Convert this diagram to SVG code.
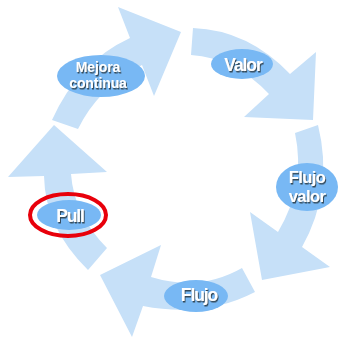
<svg xmlns="http://www.w3.org/2000/svg" width="339" height="338" viewBox="0 0 339 338">
<defs>
<filter id="sh" x="-20%" y="-20%" width="140%" height="160%">
<feDropShadow dx="1" dy="1.5" stdDeviation="0.6" flood-color="#2f3d4a" flood-opacity="0.9"/>
</filter>
</defs>
<style>
.arr{fill:#C6E0F8;stroke:none}
.node{fill:#78B8F4}
.lbl{font-family:"Liberation Sans",Arial,sans-serif;font-weight:bold;fill:#ffffff;text-anchor:middle;filter:url(#sh)}
</style>
<rect width="339" height="338" fill="#ffffff"/>
<g id="connectors">
<path class="arr" d="M52,120 Q78,62 130,38 L118,7 L181,32 L154,96 L142,65 Q98,88 78,129 Z"/>
<path class="arr" d="M193,28 Q248,30 290,74 L316,52 L313,120 L244,117 L269,94 Q235,58 191,55 Z"/>
<path class="arr" d="M295,133 Q306,185 278,232 L250,212 L262,280 L330,267 L302,247 Q334,190 318,125 Z"/>
<path class="arr" d="M242,268 Q200,292 151,277 L161,245 L100,275 L132,337 L143,306 Q205,318 255,292 Z"/>
<path class="arr" d="M88,270 Q45,228 44,176 L8,177 L54,125 L107,172 L71,174 Q74,215 107,248 Z"/>
</g>
<g id="node-mejora">
<ellipse class="node" cx="101" cy="76" rx="44" ry="21"/>
<text class="lbl" font-size="14" letter-spacing="-0.1"><tspan x="98" y="71.5">Mejora</tspan><tspan x="98" y="87.5">continua</tspan></text>
</g>
<g id="node-valor">
<ellipse class="node" cx="242" cy="64" rx="31" ry="15"/>
<text class="lbl" x="243" y="71" font-size="17.5" letter-spacing="-1.1">Valor</text>
</g>
<g id="node-flujovalor">
<ellipse class="node" cx="307" cy="187" rx="31" ry="24"/>
<text class="lbl" font-size="16.5" letter-spacing="-0.6"><tspan x="307" y="183">Flujo</tspan><tspan x="307" y="202">valor</tspan></text>
</g>
<g id="node-flujo">
<ellipse class="node" cx="196" cy="296" rx="32" ry="16"/>
<text class="lbl" x="199" y="301" font-size="17.5" letter-spacing="-1.1">Flujo</text>
</g>
<g id="node-pull">
<ellipse class="node" cx="69" cy="215" rx="32" ry="15"/>
<ellipse cx="68" cy="215" rx="38" ry="21" fill="none" stroke="#E8000B" stroke-width="4"/>
<text class="lbl" x="70" y="222" font-size="17.5" letter-spacing="-1.1">Pull</text>
</g>
</svg>
